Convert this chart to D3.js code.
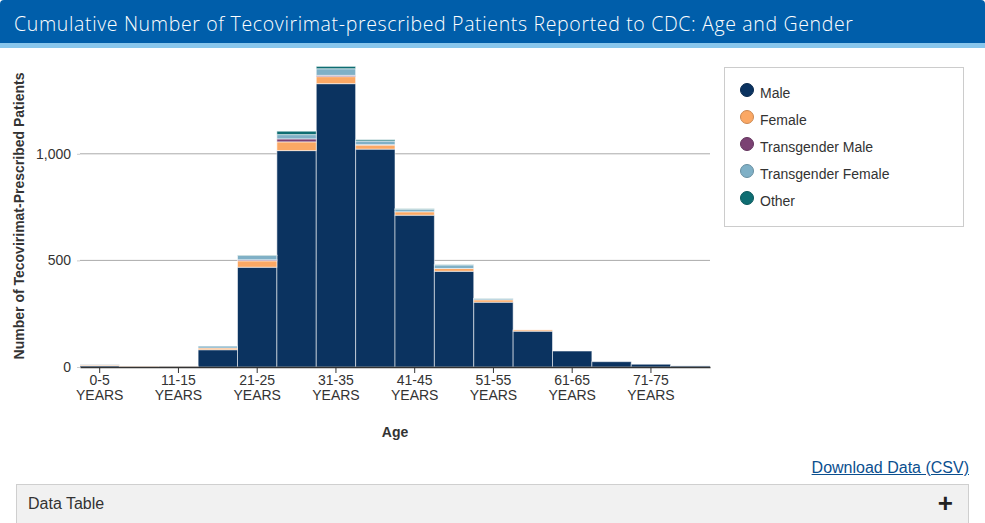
<!DOCTYPE html>
<html>
<head>
<meta charset="utf-8">
<script src="https://cdn.jsdelivr.net/npm/d3@7"></script>
<style>
  html, body { margin: 0; padding: 0; background: #fff; width: 985px; height: 523px; overflow: hidden; }
  body { position: relative; font-family: "Liberation Sans", Arial, sans-serif; }
  #header { position: absolute; left: 0; top: 0; width: 985px; height: 43px; background: #005eaa; border-radius: 4px 4px 0 0; }
  #header .strip { position: absolute; left: 0; top: 43px; width: 985px; height: 5px; background: #88c6ec; }
  #header .title { position: absolute; left: 14px; top: 10px; color: #fff; font-family: "Open Sans", sans-serif; font-weight: 300; font-size: 19.5px; letter-spacing: 0.65px; white-space: nowrap; }
  #chart { position: absolute; left: 0; top: 0; }
  #dl { position: absolute; right: 16px; top: 459px; font-size: 16px; color: #0b4f8f; text-decoration: underline; }
  #dt { position: absolute; left: 16px; top: 484px; width: 953px; height: 45px; background: #f1f1f1; border: 1px solid #cfcfcf; box-sizing: border-box; }
  #dt .lbl { position: absolute; left: 11px; top: 10px; font-size: 16px; color: #333; }
  #dt .plus { position: absolute; right: 15px; top: 3px; font-size: 26px; font-weight: bold; color: #222; }
</style>
</head>
<body>
<div id="header"><div class="title">Cumulative Number of Tecovirimat-prescribed Patients Reported to CDC: Age and Gender</div><div class="strip"></div></div>
<svg id="chart" width="985" height="523"></svg>
<div id="dl">Download Data (CSV)</div>
<div id="dt"><div class="lbl">Data Table</div><div class="plus">+</div></div>
<script>
const categories = ["0-5 YEARS","6-10 YEARS","11-15 YEARS","16-20 YEARS","21-25 YEARS","26-30 YEARS","31-35 YEARS","36-40 YEARS","41-45 YEARS","46-50 YEARS","51-55 YEARS","56-60 YEARS","61-65 YEARS","66-70 YEARS","71-75 YEARS","76+ YEARS"];
const seriesNames = ["Male","Female","Transgender Male","Transgender Female","Other"];
const male              = [6, 1, 3, 81, 468, 1015, 1329, 1022, 712, 449, 304, 168, 75, 25, 13, 5];
const female            = [4, 2, 1, 8, 30, 41, 33, 19, 16, 13, 11, 6, 0, 0, 0, 0];
const transgenderMale   = [0, 0, 0, 0, 5, 14, 6, 2, 0, 0, 0, 0, 0, 0, 0, 0];
const transgenderFemale = [2, 0, 0, 9, 20, 20, 31, 17, 12, 17, 6, 0, 0, 0, 0, 0];
const other             = [0, 0, 0, 0, 2, 16, 11, 6, 2, 1, 1, 0, 0, 0, 0, 0];
const colors = ["#0b3360", "#fba864", "#7b4173", "#7fb0c6", "#0e6d72"];
const yTicks = [0, 500, 1000];

const table = categories.map((c, i) => ({
  cat: c,
  "Male": male[i], "Female": female[i], "Transgender Male": transgenderMale[i],
  "Transgender Female": transgenderFemale[i], "Other": other[i]
}));
const stacked = d3.stack().keys(seriesNames)(table);

const svg = d3.select("#chart");
const x = d3.scaleBand().domain(categories).range([80, 710]).padding(0);
const y = d3.scaleLinear().domain([0, 1400]).range([367, 367 - 1400 * 0.2132]);

// gridlines
svg.append("g").selectAll("line").data(yTicks.filter(t => t > 0)).join("line")
  .attr("x1", 80).attr("x2", 710).attr("y1", d => y(d)).attr("y2", d => y(d))
  .attr("stroke", "#aaa").attr("stroke-width", 1);

// y axis
const yAxis = svg.append("g").attr("transform", "translate(80,0)")
  .call(d3.axisLeft(y).tickValues(yTicks).tickFormat(d3.format(",")).tickSize(3).tickPadding(6));
yAxis.select(".domain").remove();
yAxis.selectAll(".tick line").attr("stroke", "#ccc");
yAxis.selectAll("text").attr("font-size", 14).attr("fill", "#333").attr("font-family", "Liberation Sans, Arial, sans-serif");

// bars
const colorOf = d3.scaleOrdinal().domain(seriesNames).range(colors);
svg.append("g").selectAll("g").data(stacked).join("g")
  .attr("fill", d => colorOf(d.key))
  .selectAll("rect").data(d => d).join("rect")
  .attr("x", d => x(d.data.cat))
  .attr("width", x.bandwidth())
  .attr("y", d => y(d[1]))
  .attr("height", d => Math.max(0, y(d[0]) - y(d[1])))
  .attr("stroke", "rgba(255,255,255,0.55)").attr("stroke-width", 1);

// x axis
const xAxis = svg.append("g").attr("transform", "translate(0,367)")
  .call(d3.axisBottom(x).tickSize(6).tickSizeOuter(0).tickFormat(""));
xAxis.select(".domain").attr("stroke", "#333").attr("stroke-width", 1.5);
xAxis.selectAll(".tick").each(function(d, i) {
  const g = d3.select(this);
  if (i % 2 === 1) { g.remove(); return; }
  g.select("line").attr("stroke", "#333");
  const parts = d.split(" ");
  const t = g.append("text").attr("fill", "#333").attr("font-size", 14).attr("text-anchor", "middle")
    .attr("font-family", "Liberation Sans, Arial, sans-serif");
  t.append("tspan").attr("x", 0).attr("y", 18).text(parts[0]);
  t.append("tspan").attr("x", 0).attr("y", 33).text(parts[1]);
});

// axis titles
svg.append("text").attr("x", 395).attr("y", 437).attr("text-anchor", "middle")
  .attr("font-size", 14).attr("font-weight", "bold").attr("fill", "#333").text("Age");
svg.append("text").attr("transform", "translate(24,216) rotate(-90)").attr("text-anchor", "middle")
  .attr("font-size", 14).attr("font-weight", "bold").attr("fill", "#333").text("Number of Tecovirimat-Prescribed Patients");

// legend
svg.append("rect").attr("x", 724.5).attr("y", 67.5).attr("width", 239).attr("height", 159)
  .attr("fill", "#fff").attr("stroke", "#ccc");
const lg = svg.append("g").selectAll("g").data(seriesNames).join("g")
  .attr("transform", (d, i) => `translate(747,${90 + i * 27})`);
lg.append("circle").attr("r", 6.5).attr("fill", d => colorOf(d))
  .attr("stroke", d => d3.color(colorOf(d)).darker(0.6)).attr("stroke-width", 1);
lg.append("text").attr("x", 13).attr("y", 8).attr("font-size", 14).attr("fill", "#333").text(d => d);
</script>
</body>
</html>
